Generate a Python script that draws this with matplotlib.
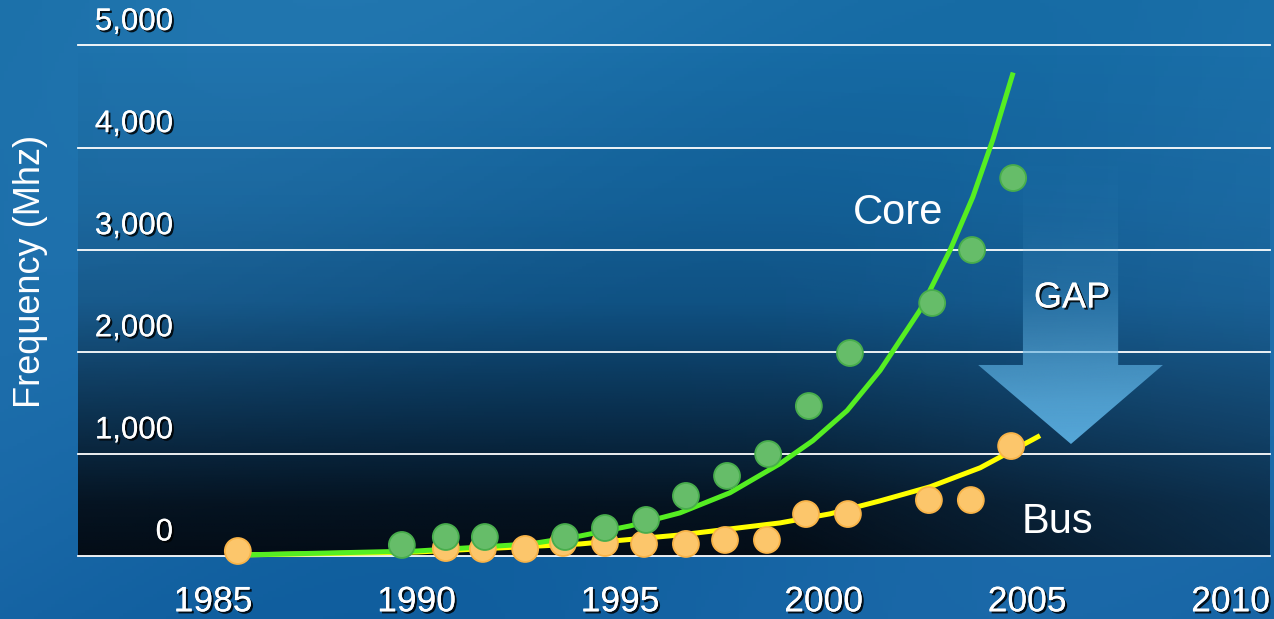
import numpy as np
import matplotlib
matplotlib.use("Agg")
import matplotlib.pyplot as plt
from matplotlib.path import Path
from matplotlib.patches import PathPatch
import matplotlib.patheffects as pe
from matplotlib.colors import to_rgb

# ---------------- data ----------------
core_years = [1989.64, 1990.72, 1991.68, 1993.65, 1994.63, 1995.64, 1996.62,
              1997.63, 1998.64, 1999.64, 2000.65, 2002.67, 2003.65, 2004.66]
core_mhz = [108, 186, 186, 186, 274, 353, 588, 784, 999, 1469, 1988, 2478, 2997, 3702]

bus_years = [1985.61, 1990.72, 1991.63, 1992.67, 1993.60, 1994.63, 1995.59, 1996.62,
             1997.58, 1998.61, 1999.57, 2000.60, 2002.59, 2003.62, 2004.61]
bus_mhz = [49, 78, 69, 69, 127, 127, 118, 118, 157, 157, 411, 411, 548, 548, 1077]

# trend lines
core_fit_years = [1985.66, 1990.01, 1992.79, 1994.02, 1995.25, 1996.47, 1997.70, 1998.93,
                  1999.74, 2000.58, 2001.39, 2001.88, 2002.37, 2003.11, 2003.67, 2004.16, 2004.66]
core_fit_mhz = [10, 49, 118, 196, 295, 422, 619, 904, 1130, 1424, 1817, 2112, 2407,
                2996, 3517, 4077, 4735]
bus_fit_years = [1985.66, 1990.01, 1994.02, 1996.47, 1998.93, 2000.16, 2001.39, 2002.62,
                 2003.85, 2005.32]
bus_fit_mhz = [10, 39, 118, 206, 324, 413, 540, 678, 864, 1179]

x_ticks = [1985, 1990, 1995, 2000, 2005, 2010]
x_labels = ["1985", "1990", "1995", "2000", "2005", "2010"]
y_ticks = [0, 1000, 2000, 3000, 4000, 5000]
y_labels = ["0", "1,000", "2,000", "3,000", "4,000", "5,000"]

# ---------------- figure ----------------
W, H = 1274, 619
fig = plt.figure(figsize=(W / 100, H / 100), dpi=100)
FONT = "Liberation Sans"

# background
bg = fig.add_axes([0, 0, 1, 1], zorder=-10)
bg.axis("off")
yy = np.linspace(0, 1, 200)[:, None]
xx = np.linspace(0, 1, 300)[None, :]
top = np.array(to_rgb("#1c71aa"))
bot = np.array(to_rgb("#1563a3"))
img = top[None, None, :] * (1 - yy[..., None]) + bot[None, None, :] * yy[..., None]
img = img + 0.02 * np.sin(6 * xx[..., None] + 3 * yy[..., None])
bg.imshow(np.clip(img, 0, 1), extent=(0, 1, 0, 1), aspect="auto", origin="upper")
bg.set_xlim(0, 1)
bg.set_ylim(0, 1)

x0, x1 = 78, 1270
ytop, ybot = 45.5, 556
ax = fig.add_axes([x0 / W, (H - ybot) / H, (x1 - x0) / W, (ybot - ytop) / H])
ax.patch.set_alpha(0)
px_per_year = 40.7
xl0 = 1985 + (x0 - 213) / px_per_year
xl1 = 1985 + (x1 - 213) / px_per_year

# darkening overlay of plot area
t = np.linspace(0, 1, 300)[:, None]
xf = np.linspace(0, 1, 400)[None, :]
alpha = np.interp(t, [0, 0.3, 0.5, 0.75, 0.9, 1.0], [0, 0.08, 0.2, 0.62, 0.88, 0.95])
alpha = alpha * (1 - 0.32 * np.clip((xf - 0.6) / 0.4, 0, 1))
ov = np.zeros((300, 400, 4))
ov[..., :3] = to_rgb("#03080f")
ov[..., 3] = alpha
ax.imshow(ov, extent=(xl0, xl1, 0, 5000), aspect="auto", origin="upper", zorder=0)

for v in y_ticks:
    ax.axhline(v, color="white", lw=1.3, zorder=1, clip_on=False)

# GAP arrow with vertical gradient
ax_l, ax_r = 2004.90, 2007.24
hd_l, hd_r = 2003.80, 2008.34
tip_x = 2006.08
base_y, tip_y, top_y = 1871, 1097, 4000
verts = [(ax_l, top_y), (ax_l, base_y), (hd_l, base_y), (tip_x, tip_y),
         (hd_r, base_y), (ax_r, base_y), (ax_r, top_y), (ax_l, top_y)]
arrow_path = Path(verts, closed=True)
patch = PathPatch(arrow_path, facecolor="none", edgecolor="none")
ax.add_patch(patch)
gy = np.linspace(top_y, tip_y, 300)[:, None]
ga = np.interp(gy, [tip_y, 1500, base_y, 2600, 3300, top_y], [0.95, 0.85, 0.68, 0.22, 0.06, 0.0])
grad = np.zeros((300, 2, 4))
grad[..., :3] = to_rgb("#5aaee0")
grad[..., 3] = ga[:, 0][:, None]
im = ax.imshow(grad, extent=(hd_l, hd_r, tip_y, top_y), aspect="auto", origin="upper", zorder=2)
im.set_clip_path(patch)

# trend lines
ax.plot(bus_fit_years, bus_fit_mhz, color="#ffff00", lw=3.6, zorder=3,
        solid_capstyle="butt", clip_on=False)
ax.plot(core_fit_years, core_fit_mhz, color="#55ee22", lw=3.6, zorder=3,
        solid_capstyle="butt", clip_on=False)

# points (simple shaded spheres)
def shaded(xs, ys, dark, light, z):
    ax.scatter(xs, ys, s=400, color=dark, edgecolors="none", zorder=z, clip_on=False)
    ax.scatter(xs, ys, s=300, color=light, edgecolors="none", zorder=z + 0.01,
               clip_on=False, alpha=0.55)

shaded(bus_years, bus_mhz, "#f9b448", "#ffd689", 4)
shaded(core_years, core_mhz, "#48ad4c", "#7fcc82", 5)

ax.set_xlim(xl0, xl1)
ax.set_ylim(0, 5000)
for s in ax.spines.values():
    s.set_visible(False)

shadow = [pe.withSimplePatchShadow(offset=(1.5, -1.5), shadow_rgbFace="black", alpha=0.85),
          pe.Normal()]

ax.set_xticks(x_ticks)
ax.set_xticklabels(x_labels, fontsize=25.5, color="white", family=FONT)
ax.tick_params(axis="x", length=0, pad=33)
for lab in ax.get_xticklabels():
    lab.set_va("center")
    lab.set_path_effects(shadow)
ax.set_yticks([])

for v, lab in zip(y_ticks, y_labels):
    ax.annotate(lab, xy=(0, v), xycoords=ax.get_yaxis_transform(),
                xytext=(173 - x0, 23.5), textcoords="offset pixels",
                ha="right", va="center", fontsize=22.5, color="white",
                family=FONT, path_effects=shadow, annotation_clip=False)

fig.text(30 / W, (H - 271) / H, "Frequency (Mhz)", rotation=90, ha="center", va="center",
         fontsize=26, color="white", family=FONT)

ax.text(2001.83, 3360, "Core", ha="center", va="center", fontsize=30, color="white",
        family=FONT, zorder=6)
ax.text(2005.74, 330, "Bus", ha="center", va="center", fontsize=30, color="white",
        family=FONT, zorder=6)
ax.text(2006.11, 2527, "GAP", ha="center", va="center", fontsize=26, color="white",
        family=FONT, zorder=6, path_effects=shadow)

fig.savefig("out.png", dpi=100)
